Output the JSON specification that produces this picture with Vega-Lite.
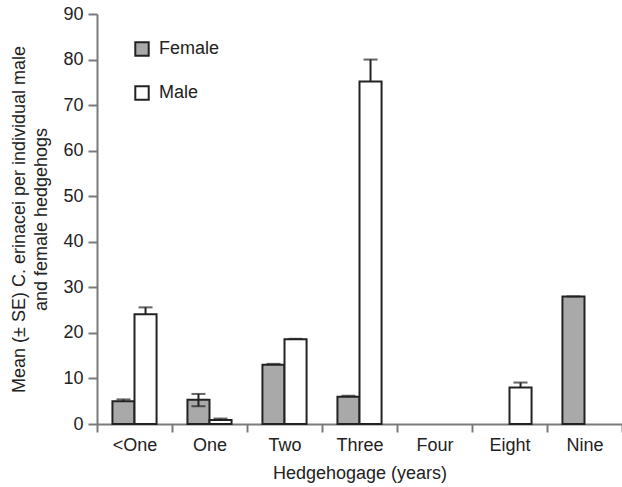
{
  "$schema": "https://vega.github.io/schema/vega-lite/v6.json",
  "autosize": "none",
  "width": 525,
  "height": 410,
  "padding": {"left": 97, "top": 14, "right": 0, "bottom": 63},
  "background": "#ffffff",
  "config": {
    "view": {"stroke": null},
    "font": "Liberation Sans",
    "axis": {
      "domainColor": "#7a7a7a",
      "domainWidth": 2,
      "tickColor": "#7a7a7a",
      "tickWidth": 2,
      "grid": false,
      "labelFont": "Liberation Sans",
      "labelFontSize": 18,
      "labelColor": "#222222",
      "titleFont": "Liberation Sans",
      "titleFontSize": 18,
      "titleFontWeight": "normal",
      "titleColor": "#222222"
    }
  },
  "data": {
    "values": [
      {"age": "<One", "sex": "Female", "value": 5.0, "lo": 5.0, "hi": 5.4},
      {"age": "<One", "sex": "Male", "value": 24.1, "lo": 24.1, "hi": 25.6},
      {"age": "One", "sex": "Female", "value": 5.3, "lo": 3.9, "hi": 6.6},
      {"age": "One", "sex": "Male", "value": 0.9, "lo": 0.9, "hi": 1.2},
      {"age": "Two", "sex": "Female", "value": 13.0, "lo": 13.0, "hi": 13.2},
      {"age": "Two", "sex": "Male", "value": 18.6, "lo": 18.6, "hi": 18.7},
      {"age": "Three", "sex": "Female", "value": 6.0, "lo": 6.0, "hi": 6.2},
      {"age": "Three", "sex": "Male", "value": 75.2, "lo": 75.2, "hi": 80.0},
      {"age": "Eight", "sex": "Male", "value": 8.0, "lo": 8.0, "hi": 9.1},
      {"age": "Nine", "sex": "Female", "value": 28.0, "lo": 28.0, "hi": 28.0}
    ]
  },
  "encoding": {
    "x": {
      "field": "age",
      "type": "nominal",
      "sort": ["<One", "One", "Two", "Three", "Four", "Eight", "Nine"],
      "scale": {"domain": ["<One", "One", "Two", "Three", "Four", "Eight", "Nine"], "paddingInner": 0, "paddingOuter": 0},
      "axis": {
        "title": "Hedgehogage (years)",
        "labelAngle": 0,
        "tickBand": "extent",
        "tickSize": 8,
        "labelPadding": 4,
        "titlePadding": 10
      }
    },
    "xOffset": {
      "field": "sex",
      "type": "nominal",
      "scale": {"domain": ["Female", "Male"], "paddingInner": 0, "paddingOuter": 0.7}
    }
  },
  "layer": [
    {
      "mark": {"type": "bar", "stroke": "#222222", "strokeWidth": 2},
      "encoding": {
        "y": {
          "field": "value",
          "type": "quantitative",
          "scale": {"domain": [0, 90], "nice": false},
          "axis": {
            "title": ["Mean (± SE) C. erinacei per individual male", "and female hedgehogs"],
            "titleLineHeight": 22,
            "values": [0, 10, 20, 30, 40, 50, 60, 70, 80, 90],
            "tickSize": 9,
            "labelPadding": 5,
            "titlePadding": 12
          }
        },
        "fill": {
          "field": "sex",
          "type": "nominal",
          "scale": {"domain": ["Female", "Male"], "range": ["#a9a9a9", "#ffffff"]},
          "legend": {
            "title": null,
            "orient": "none",
            "legendX": 36,
            "legendY": 26,
            "symbolType": "square",
            "symbolSize": 180,
            "symbolStrokeColor": "#222222",
            "symbolStrokeWidth": 2,
            "labelFontSize": 18,
            "labelFont": "Liberation Sans",
            "labelColor": "#222222",
            "labelOffset": 8,
            "rowPadding": 22
          }
        }
      }
    },
    {
      "mark": {"type": "rule", "color": "#222222", "strokeWidth": 2},
      "encoding": {
        "y": {"field": "lo", "type": "quantitative"},
        "y2": {"field": "hi"}
      }
    },
    {
      "mark": {"type": "tick", "color": "#222222", "thickness": 2, "size": 14},
      "encoding": {
        "y": {"field": "hi", "type": "quantitative"}
      }
    },
    {
      "transform": [{"filter": "datum.lo < datum.value"}],
      "mark": {"type": "tick", "color": "#222222", "thickness": 2, "size": 14},
      "encoding": {
        "y": {"field": "lo", "type": "quantitative"}
      }
    }
  ]
}
